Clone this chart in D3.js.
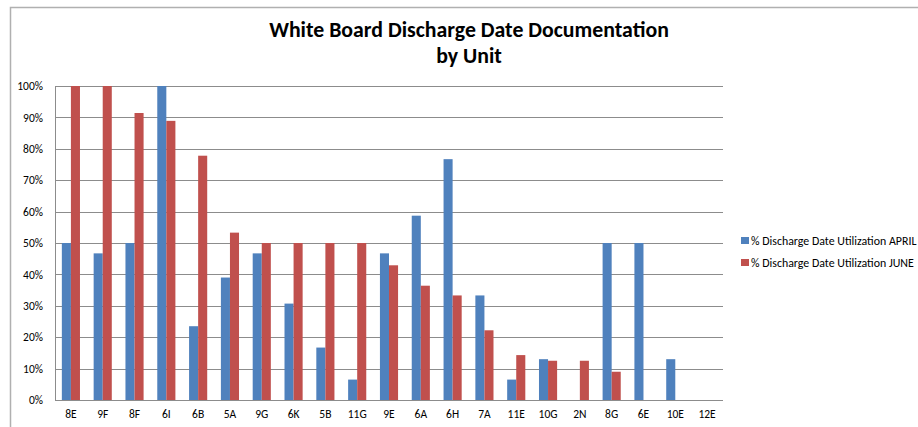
<!DOCTYPE html>
<html><head><meta charset="utf-8">
<script src="https://cdn.jsdelivr.net/npm/d3@7"></script>
<style>body{margin:0;background:#fff}svg{display:block;font-family:Carlito,Lato,"Open Sans",sans-serif}</style>
</head><body><svg id="c" width="918" height="427"></svg>
<script>
const units = ["8E","9F","8F","6I","6B","5A","9G","6K","5B","11G","9E","6A","6H","7A","11E","10G","2N","8G","6E","10E","12E"];
const april = [0.50,0.467,0.50,1.00,0.235,0.39,0.467,0.307,0.167,0.065,0.467,0.587,0.767,0.333,0.065,0.13,0,0.50,0.50,0.13,0];
const june  = [1.00,1.00,0.914,0.889,0.778,0.533,0.50,0.50,0.50,0.50,0.429,0.364,0.333,0.222,0.143,0.125,0.125,0.09,0,0,0];
const seriesNames = ["% Discharge Date Utilization APRIL","% Discharge Date Utilization JUNE"];
const colors = ["#4F81BD","#C0504D"];
const yTicks = [0,0.1,0.2,0.3,0.4,0.5,0.6,0.7,0.8,0.9,1.0];
const titleLines = ["White Board Discharge Date Documentation","by Unit"];

const svg = d3.select("#c");
// frame
svg.append("path").attr("d","M10.5,427 V7.5 H918").attr("fill","none").attr("stroke","#b0b0b0").attr("stroke-width",1.5);

const L=55,R=723,T=86,B=400;
const x = d3.scaleBand().domain(units).range([L,R]).paddingInner(0.43).paddingOuter(0.215);
const y = d3.scaleLinear().domain([0,1]).range([B,T]);
const xs = d3.scaleBand().domain([0,1]).range([0,x.bandwidth()]);

// grid
svg.append("g").selectAll("line").data(yTicks).join("line")
  .attr("x1",L).attr("x2",R).attr("y1",d=>Math.round(y(d))+0.5).attr("y2",d=>Math.round(y(d))+0.5)
  .attr("stroke","#8c8c8c").attr("stroke-width",1);
// y axis line
svg.append("line").attr("x1",L+0.5).attr("x2",L+0.5).attr("y1",T).attr("y2",B).attr("stroke","#8c8c8c");

const ff = "Carlito,Lato,'Open Sans',sans-serif";
const yAxis = d3.axisLeft(y).tickValues(yTicks).tickFormat(d3.format(".0%")).tickSize(0).tickPadding(12);
const ga = svg.append("g").attr("transform",`translate(${L},0)`).call(yAxis);
ga.select(".domain").remove();
ga.selectAll("text").attr("font-size",11.5).attr("fill","#000").style("font-family",ff);

const xAxis = d3.axisBottom(x).tickSize(0).tickPadding(10);
const gx = svg.append("g").attr("transform",`translate(0,${B})`).call(xAxis);
gx.select(".domain").remove();
gx.selectAll("text").attr("font-size",11.5).attr("fill","#000").style("font-family",ff);

[april,june].forEach((vals,si)=>{
  svg.append("g").selectAll("rect").data(vals).join("rect")
    .attr("x",(d,i)=>x(units[i])+xs(si))
    .attr("width",xs.bandwidth())
    .attr("y",d=>y(d))
    .attr("height",d=>B-y(d))
    .attr("fill",colors[si]);
});

// title
svg.append("g").selectAll("text").data(titleLines).join("text")
  .attr("x",469).attr("y",(d,i)=>37+i*26).attr("text-anchor","middle")
  .attr("font-size",21.8).attr("font-weight","bold").attr("fill","#000").text(d=>d);

// legend
const lg = svg.append("g").selectAll("g").data(seriesNames).join("g")
  .attr("transform",(d,i)=>`translate(741,${237+i*22})`);
lg.append("rect").attr("width",8).attr("height",7).attr("fill",(d,i)=>colors[i]);
lg.append("text").attr("x",10).attr("y",8).attr("font-size",11.9).attr("fill","#000").text(d=>d);
</script></body></html>
